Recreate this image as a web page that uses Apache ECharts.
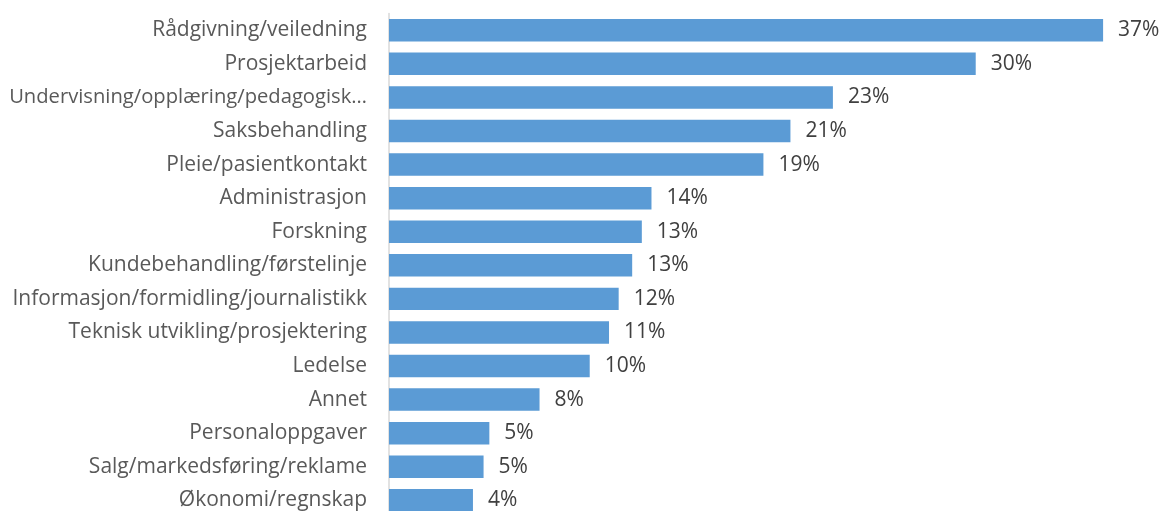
<!DOCTYPE html>
<html><head><meta charset="utf-8">
<script src="https://cdn.jsdelivr.net/npm/echarts@6/dist/echarts.min.js"></script>
<style>html,body{margin:0;padding:0;background:#fff}#c{width:1162px;height:511px}</style>
</head><body><div id="c"></div>
<script>
const categories = [
  "Rådgivning/veiledning",
  "Prosjektarbeid",
  "Undervisning/opplæring/pedagogisk…",
  "Saksbehandling",
  "Pleie/pasientkontakt",
  "Administrasjon",
  "Forskning",
  "Kundebehandling/førstelinje",
  "Informasjon/formidling/journalistikk",
  "Teknisk utvikling/prosjektering",
  "Ledelse",
  "Annet",
  "Personaloppgaver",
  "Salg/markedsføring/reklame",
  "Økonomi/regnskap"
];
const values = [37.0, 30.4, 23.0, 20.8, 19.4, 13.6, 13.1, 12.6, 11.9, 11.4, 10.4, 7.8, 5.2, 4.9, 4.35];

const catData = categories.map(c => c.endsWith('…')
  ? { value: c, textStyle: { fontSize: 20.2 } }
  : c);

const chart = echarts.init(document.getElementById('c'));
chart.setOption({
  animation: false,
  grid: { left: 389, right: 1, top: 13.5, height: 503.6, containLabel: false, outerBoundsMode: 'none' },
  xAxis: { type: 'value', min: 0, max: 40, show: false },
  yAxis: {
    type: 'category', inverse: true, data: catData,
    axisLine: { show: true, lineStyle: { color: '#d9d9d9', width: 1.5 } },
    axisTick: { show: false },
    axisLabel: { color: '#595959', fontFamily: 'Open Sans', fontSize: 21, margin: 22 }
  },
  series: [{
    type: 'bar', data: values, barCategoryGap: '33%',
    itemStyle: { color: '#5b9bd5' },
    label: {
      show: true, position: 'right', distance: 15,
      color: '#404040', fontFamily: 'Open Sans', fontSize: 21,
      formatter: p => Math.round(p.value) + '%'
    }
  }]
});
</script></body></html>
